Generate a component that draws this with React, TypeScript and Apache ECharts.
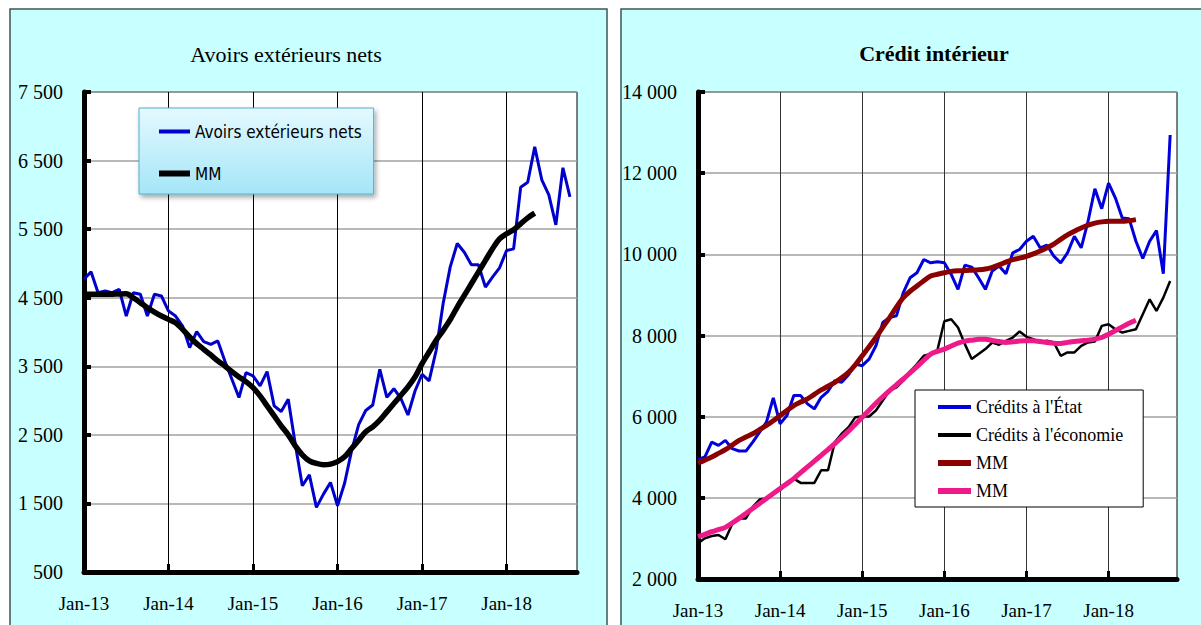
import React, { useEffect, useRef } from 'react';
import * as echarts from 'echarts';

const MONTHS = ['Jan', 'Feb', 'Mar', 'Apr', 'May', 'Jun', 'Jul', 'Aug', 'Sep', 'Oct', 'Nov', 'Dec'];
const YEARS = ['13', '14', '15', '16', '17', '18'];
const categories: string[] = [];
YEARS.forEach((y) => MONTHS.forEach((m) => categories.push(`${m}-${y}`)));
const cats = categories.slice(0, 71);

// Avoirs extérieurs nets (monthly)
const avoirs = [
  4770, 4880, 4573, 4597, 4573, 4620, 4233, 4573, 4550, 4233, 4550, 4525,
  4305, 4233, 4087, 3772, 4005, 3860, 3820, 3870, 3578, 3310, 3044, 3408,
  3360, 3214, 3422, 2922, 2840, 3020, 2364, 1757, 1917, 1442, 1636, 1806,
  1466, 1794, 2270, 2650, 2855, 2935, 3455, 3048, 3173, 3028, 2790, 3140,
  3384, 3287, 3730, 4420, 4950, 5290, 5163, 4980, 4980, 4655, 4800, 4935,
  5188, 5212, 6110, 6183, 6700, 6220, 6000, 5562, 6395, 5970,
];
const avoirsMM = [
  4549, 4549, 4549, 4549, 4550, 4555, 4558, 4500, 4427, 4354, 4291, 4233,
  4184, 4136, 4039, 3927, 3830, 3748, 3665, 3578, 3505, 3422, 3345, 3277,
  3189, 3068, 2922, 2777, 2631, 2500, 2340, 2209, 2121, 2083, 2063, 2073,
  2110, 2180, 2301, 2422, 2544, 2617, 2714, 2835, 2956, 3078, 3199, 3345,
  3539, 3709, 3879, 4024, 4180, 4364, 4534, 4704, 4874, 5044, 5214, 5359,
  5432, 5490, 5578, 5665, 5733,
];

// Crédit intérieur
const creditsEtat = [
  4941, 5006, 5374, 5292, 5415, 5211, 5153, 5153, 5374, 5620, 5865, 6462,
  5824, 6029, 6519, 6519, 6315, 6192, 6478, 6626, 6887, 6846, 7035, 7297,
  7256, 7419, 7746, 8319, 8442, 8483, 9055, 9423, 9546, 9873, 9791, 9816,
  9791, 9505, 9137, 9734, 9685, 9423, 9137, 9587, 9710, 9521, 10037, 10119,
  10323, 10446, 10160, 10225, 9955, 9791, 10037, 10446, 10160, 10814, 11616, 11125,
  11755, 11387, 10896, 10879, 10323, 9898, 10323, 10585, 9521, 12941,
];
const creditsEco = [
  2879, 3002, 3059, 3084, 2978, 3354, 3493, 3493, 3779, 3959, 3984, 4123,
  4188, 4352, 4474, 4368, 4368, 4368, 4679, 4679, 5374, 5579, 5742, 5988,
  6004, 6004, 6151, 6397, 6642, 6724, 6887, 7117, 7297, 7501, 7542, 7650,
  8350, 8400, 8196, 7787, 7419, 7542, 7665, 7828, 7771, 7869, 7950, 8098,
  7967, 7910, 7828, 7869, 7828, 7501, 7583, 7583, 7746, 7828, 7853, 8237,
  8278, 8155, 8073, 8114, 8155, 8523, 8892, 8605, 8933, 9341,
];
const etatMM = [
  4859, 4930, 5006, 5095, 5186, 5300, 5415, 5500, 5579, 5680, 5783, 5900,
  6029, 6150, 6274, 6360, 6438, 6550, 6658, 6750, 6846, 6960, 7092, 7280,
  7501, 7720, 7951, 8200, 8442, 8700, 8933, 9090, 9219, 9350, 9464, 9510,
  9546, 9580, 9595, 9600, 9610, 9620, 9640, 9680, 9740, 9810, 9870, 9905,
  9950, 10010, 10080, 10160, 10250, 10370, 10480, 10570, 10650, 10720, 10770, 10800,
  10814, 10814, 10814, 10830, 10855,
];
const ecoMM = [
  3043, 3100, 3166, 3215, 3272, 3380, 3493, 3615, 3738, 3860, 3984, 4105,
  4229, 4350, 4474, 4620, 4761, 4905, 5047, 5190, 5333, 5490, 5644, 5815,
  5988, 6160, 6331, 6490, 6642, 6785, 6928, 7080, 7231, 7390, 7542, 7610,
  7665, 7740, 7810, 7860, 7885, 7905, 7905, 7880, 7850, 7830, 7845, 7865,
  7870, 7870, 7850, 7830, 7810, 7805, 7830, 7853, 7870, 7886, 7910, 7951,
  8030, 8120, 8213, 8300, 8376,
];

const SERIF = "'Liberation Serif', 'DejaVu Serif', serif";
const SANS = "'Liberation Sans Narrow', 'DejaVu Sans Condensed', Lato, sans-serif";

const fmt = (v: number) => String(v).replace(/\B(?=(\d{3})+(?!\d))/g, ' ');
const janOnly = (i: number) => i % 12 === 0;

function xAxisFor(gridIndex: number, splitColor: string) {
  return {
    type: 'category',
    gridIndex,
    data: cats,
    boundaryGap: false,
    axisLine: { show: true, onZero: false, lineStyle: { color: '#000', width: 5 } },
    axisTick: { show: true, inside: true, length: 8, interval: janOnly, lineStyle: { color: '#000', width: 3 } },
    axisLabel: {
      interval: janOnly,
      fontFamily: SERIF,
      fontSize: 19,
      color: '#000',
      margin: 22,
      formatter: (v: string) => v,
    },
    splitLine: { show: true, interval: janOnly, lineStyle: { color: splitColor, width: 1 } },
  };
}

function yAxisFor(gridIndex: number, min: number, max: number, interval: number) {
  return {
    type: 'value',
    gridIndex,
    min,
    max,
    interval,
    axisLine: { show: true, lineStyle: { color: '#000', width: 5 } },
    axisTick: { show: true, inside: true, length: 7, lineStyle: { color: '#000', width: 4 } },
    axisLabel: { fontFamily: SERIF, fontSize: 20, color: '#000', margin: 21, formatter: fmt },
    splitLine: { show: true, lineStyle: { color: '#a0a0a0', width: 1.5 } },
  };
}

export default function App() {
  const ref = useRef<HTMLDivElement>(null);
  useEffect(() => {
    if (!ref.current) return;
    const chart = echarts.init(ref.current, undefined, { renderer: 'svg' });
    chart.setOption({
      animation: false,
      backgroundColor: '#fff',
      graphic: [
        {
          type: 'rect',
          z: -10,
          shape: { x: 10, y: 9, width: 597, height: 640 },
          style: { fill: '#c8ffff', stroke: '#3d5555', lineWidth: 1.5 },
        },
        {
          type: 'rect',
          z: -10,
          shape: { x: 621, y: 9, width: 600, height: 640 },
          style: { fill: '#c8ffff', stroke: '#3d5555', lineWidth: 1.5 },
        },
        {
          type: 'text',
          z: 10,
          x: 286,
          y: 54,
          style: {
            text: 'Avoirs extérieurs nets',
            font: `22px ${SERIF}`,
            fill: '#000',
            textAlign: 'center',
            textVerticalAlign: 'middle',
          },
        },
        {
          type: 'text',
          z: 10,
          x: 934,
          y: 53,
          style: {
            text: 'Crédit intérieur',
            font: `bold 22px ${SERIF}`,
            fill: '#000',
            textAlign: 'center',
            textVerticalAlign: 'middle',
          },
        },
      ],
      grid: [
        { left: 84, top: 92, width: 493, height: 480, show: true, backgroundColor: '#fff', borderColor: '#000', borderWidth: 1 },
        { left: 698, top: 92, width: 479, height: 487, show: true, backgroundColor: '#fff', borderColor: '#000', borderWidth: 1 },
      ],
      xAxis: [xAxisFor(0, '#000'), xAxisFor(1, '#333')],
      yAxis: [yAxisFor(0, 500, 7500, 1000), yAxisFor(1, 2000, 14000, 2000)],
      legend: [
        {
          orient: 'vertical',
          left: 139,
          top: 108,
          data: [
            { name: 'Avoirs extérieurs nets', lineStyle: { width: 4 } },
            { name: 'MM', lineStyle: { width: 6 } },
          ],
          itemWidth: 31,
          itemHeight: 14,
          itemGap: 25,
          padding: [15, 12, 12, 17],
          selectedMode: false,
          itemStyle: { opacity: 0 },
          backgroundColor: {
            type: 'linear', x: 0, y: 0, x2: 0, y2: 1,
            colorStops: [
              { offset: 0, color: '#e4f9ff' },
              { offset: 1, color: '#a4e6f7' },
            ],
          },
          borderColor: '#4cb2cf',
          borderWidth: 1,
          shadowBlur: 5,
          shadowColor: 'rgba(0,0,0,0.35)',
          shadowOffsetX: 2,
          shadowOffsetY: 3,
          textStyle: { fontFamily: SANS, fontSize: 17, color: '#000' },
        },
        {
          orient: 'vertical',
          left: 915,
          top: 390,
          data: [
            { name: "Crédits à l'État", lineStyle: { width: 4 } },
            { name: "Crédits à l'économie", lineStyle: { width: 4 } },
            { name: 'MM ', lineStyle: { width: 6 } },
            { name: 'MM  ', lineStyle: { width: 6 } },
          ],
          itemWidth: 33,
          itemHeight: 14,
          itemGap: 10,
          padding: [8, 20, 7, 20],
          selectedMode: false,
          itemStyle: { opacity: 0 },
          backgroundColor: '#fff',
          borderColor: '#000',
          borderWidth: 1,
          textStyle: { fontFamily: SERIF, fontSize: 18, color: '#000' },
        },
      ],
      series: [
        {
          name: 'Avoirs extérieurs nets', type: 'line', xAxisIndex: 0, yAxisIndex: 0, data: avoirs,
          symbol: 'none', lineStyle: { color: '#0000cc', width: 3 }, itemStyle: { color: '#0000cc' }, z: 3,
        },
        {
          name: 'MM', type: 'line', xAxisIndex: 0, yAxisIndex: 0, data: avoirsMM, smooth: 0.3,
          symbol: 'none', lineStyle: { color: '#000', width: 5.5 }, itemStyle: { color: '#000' }, z: 4,
        },
        {
          name: "Crédits à l'État", type: 'line', xAxisIndex: 1, yAxisIndex: 1, data: creditsEtat,
          symbol: 'none', lineStyle: { color: '#0000dd', width: 3 }, itemStyle: { color: '#0000dd' }, z: 3,
        },
        {
          name: "Crédits à l'économie", type: 'line', xAxisIndex: 1, yAxisIndex: 1, data: creditsEco,
          symbol: 'none', lineStyle: { color: '#000', width: 2.5 }, itemStyle: { color: '#000' }, z: 3,
        },
        {
          name: 'MM ', type: 'line', xAxisIndex: 1, yAxisIndex: 1, data: etatMM, smooth: 0.3,
          symbol: 'none', lineStyle: { color: '#8b0000', width: 5 }, itemStyle: { color: '#8b0000' }, z: 4,
        },
        {
          name: 'MM  ', type: 'line', xAxisIndex: 1, yAxisIndex: 1, data: ecoMM, smooth: 0.3,
          symbol: 'none', lineStyle: { color: '#ee1a8a', width: 5 }, itemStyle: { color: '#ee1a8a' }, z: 4,
        },
      ],
    });
    return () => chart.dispose();
  }, []);
  return (
    <div
      ref={ref}
      style={{ position: 'fixed', left: 0, top: 0, width: 1201, height: 625 }}
    />
  );
}
